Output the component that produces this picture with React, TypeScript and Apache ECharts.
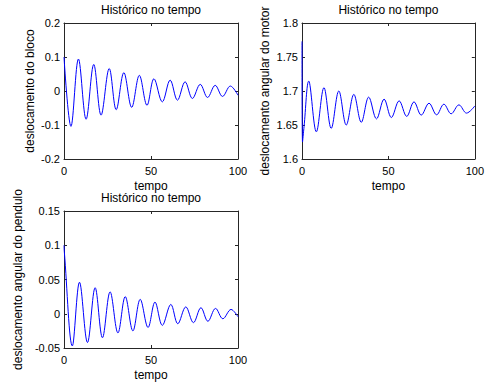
import React, { useEffect, useRef } from "react";
import * as echarts from "echarts";

const blockT = [0, 4.0, 8.3, 12.7, 17.1, 21.3, 26.0, 30.0, 34.4, 38.9, 43.3, 47.7, 51.7, 56.5, 61.0, 65.2, 69.6, 73.8, 78.3, 82.5, 86.9, 91.1, 95.6, 100];
const blockY = [0.100, -0.104, 0.094, -0.083, 0.078, -0.071, 0.066, -0.055, 0.054, -0.048, 0.046, -0.042, 0.036, -0.032, 0.032, -0.027, 0.027, -0.022, 0.0195, -0.019, 0.0166, -0.016, 0.0146, -0.0125];

const motorT = [0, 0.3, 1.2, 3.9, 8.3, 12.7, 16.9, 21.3, 25.6, 30.0, 34.3, 38.6, 43.1, 47.5, 51.7, 56.2, 60.6, 64.8, 69.0, 73.5, 77.9, 82.1, 86.3, 90.8, 95.2, 100];
const motorY = [1.773, 1.625, 1.648, 1.7146, 1.640, 1.705, 1.645, 1.700, 1.650, 1.695, 1.654, 1.691, 1.659, 1.688, 1.661, 1.6855, 1.6627, 1.684, 1.6646, 1.682, 1.665, 1.6806, 1.6665, 1.6796, 1.6675, 1.678];

const pendT = [0, 0.2, 4.8, 8.9, 13.5, 17.9, 22.1, 26.5, 31.0, 35.2, 39.6, 43.8, 48.3, 52.3, 56.5, 61.4, 65.4, 70.0, 74.4, 78.7, 82.7, 87.1, 91.3, 96.0, 100];
const pendY = [0.100, 0.090, -0.047, 0.046, -0.042, 0.038, -0.035, 0.032, -0.028, 0.025, -0.025, 0.021, -0.020, 0.017, -0.017, 0.0136, -0.0146, 0.010, -0.013, 0.0088, -0.011, 0.0078, -0.0073, 0.0063, -0.0044];

const xTicks = { min: 0, max: 100, interval: 50 };
const titleText = "Histórico no tempo";
const xName = "tempo";
const yNames = ["deslocamento do bloco", "deslocamento angular do motor", "deslocamento angular do pendulo"];
const yRanges = [
  { min: -0.2, max: 0.2, interval: 0.1 },
  { min: 1.6, max: 1.8, interval: 0.05 },
  { min: -0.05, max: 0.15, interval: 0.05 },
];

const FONT = "Liberation Sans, Arial, Helvetica, sans-serif";
const AX = "#262626";

export default function App() {
  const ref = useRef<HTMLDivElement>(null);
  useEffect(() => {
    if (!ref.current) return;
    const chart = echarts.init(ref.current, null, { renderer: "svg" });
    const grids = [
      { left: 64, top: 23, width: 174, height: 136 },
      { left: 302, top: 23, width: 174, height: 136 },
      { left: 64, top: 211, width: 174, height: 137 },
    ];
    const yGaps = [28, 31, 40];
    const series = [
      { t: blockT, y: blockY },
      { t: motorT, y: motorY },
      { t: pendT, y: pendY },
    ];
    const lineAxis = { show: true, onZero: false, lineStyle: { color: AX, width: 1 } };
    const tick = { show: true, inside: true, length: 3, lineStyle: { color: AX } };
    const xAxis: any[] = [];
    const yAxis: any[] = [];
    grids.forEach((_, i) => {
      xAxis.push({
        type: "value", gridIndex: i, position: "bottom", ...xTicks,
        axisLine: lineAxis, axisTick: tick, splitLine: { show: false },
        axisLabel: { color: "#000", fontSize: 11, fontFamily: FONT, margin: 6 },
        name: xName, nameLocation: "middle", nameGap: 21,
        nameTextStyle: { color: "#000", fontSize: 12, fontFamily: FONT },
      });
      xAxis.push({
        type: "value", gridIndex: i, position: "top", ...xTicks,
        axisLine: lineAxis, axisTick: tick, splitLine: { show: false },
        axisLabel: { show: false },
        name: titleText, nameLocation: "middle", nameGap: 7,
        nameTextStyle: { color: "#000", fontSize: 12, fontFamily: FONT },
      });
      yAxis.push({
        type: "value", gridIndex: i, position: "left", ...yRanges[i],
        axisLine: lineAxis, axisTick: tick, splitLine: { show: false },
        axisLabel: { color: "#000", fontSize: 11, fontFamily: FONT, margin: 4 },
        name: yNames[i], nameLocation: "middle", nameGap: yGaps[i],
        nameTextStyle: { color: "#000", fontSize: 12, fontFamily: FONT },
      });
      yAxis.push({
        type: "value", gridIndex: i, position: "right", ...yRanges[i],
        axisLine: lineAxis, axisTick: tick, splitLine: { show: false },
        axisLabel: { show: false },
      });
    });
    chart.setOption({
      animation: false,
      backgroundColor: "#fff",
      grid: grids,
      xAxis,
      yAxis,
      series: series.map((s, i) => ({
        type: "line",
        xAxisIndex: i * 2,
        yAxisIndex: i * 2,
        data: s.t.map((t, k) => [t, s.y[k]]),
        showSymbol: false,
        smooth: 0.36,
        lineStyle: { color: "#0000ff", width: 1 },
        silent: true,
      })),
    });
    return () => chart.dispose();
  }, []);
  return (
    <div
      ref={ref}
      style={{ position: "absolute", left: 0, top: 0, width: 487, height: 387 }}
    />
  );
}
